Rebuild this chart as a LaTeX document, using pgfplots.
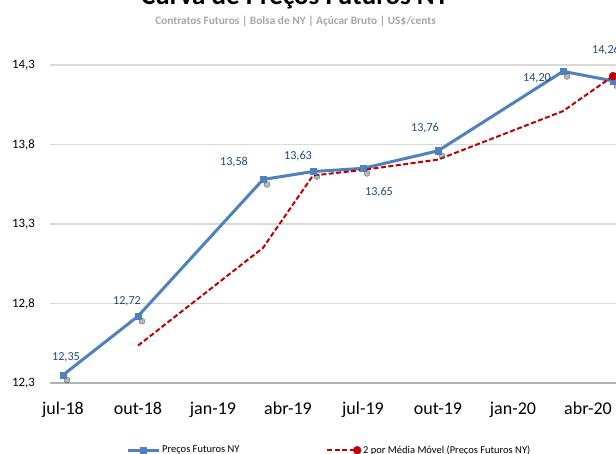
\documentclass[border=0pt]{standalone}
\usepackage{fontspec}
\setmainfont{Carlito}
\usepackage{pgfplots}
\usepackage{pgfplotstable}
\pgfplotsset{compat=1.18}
\definecolor{azul}{HTML}{4F81BD}
\definecolor{vermelho}{HTML}{C00000}
\definecolor{rotulo}{HTML}{1F497D}
\definecolor{grade}{HTML}{D9D9D9}
\definecolor{subt}{HTML}{A6A6A6}

% months since jul-18
\pgfplotstableread{
x  y      lab    dx   dy
0  12.35  12,35  3    18
3  12.72  12,72  -11  15
8  13.58  13,58  -29  17
10 13.63  13,63  -15  15
12 13.65  13,65  16   -24
15 13.76  13,76  -13  23
20 14.26  14,20  -26  -7
22 14.20  14,26  -7   31
}\precos

\pgfplotstableread{
x  y
3  12.535
8  13.15
10 13.605
12 13.64
15 13.705
20 14.01
22 14.23
}\media

\begin{document}
\begin{tikzpicture}
\useasboundingbox (0pt,0pt) rectangle (616pt,-453pt);
\clip (0pt,0pt) rectangle (616pt,-453pt);
\begin{axis}[
  at={(50pt,-383pt)}, anchor=south west,
  scale only axis, width=600.5pt, height=318pt,
  xmin=-0.52, xmax=23.5, ymin=12.3, ymax=14.3,
  clip=false,
  axis x line*=bottom, axis y line*=left,
  x axis line style={draw=black!30, line width=1.3pt, -},
  y axis line style={draw=none},
  ymajorgrids, grid style={draw=grade, line width=1.2pt},
  major tick length=0pt,
  xtick={0,3,6,9,12,15,18,21},
  xticklabels={jul-18,out-18,jan-19,abr-19,jul-19,out-19,jan-20,abr-20},
  xticklabel style={anchor=base, yshift=-31pt, font=\fontsize{18}{21}\selectfont},
  ytick={12.3,12.8,13.3,13.8,14.3},
  yticklabel style={anchor=east, inner sep=0pt, xshift=-15pt, font=\fontsize{12.8}{15}\selectfont},
  /pgf/number format/.cd, assume math mode=true, use comma, fixed, fixed zerofill, precision=1,
  /pgfplots/.cd,
  legend style={at={(axis description cs:0.12656,-0.2115)}, anchor=west, draw=none, fill=none,
    inner sep=0pt, font=\fontsize{10.5}{12}\selectfont, legend columns=2, column sep=0pt,
    nodes={inner sep=0pt, inner xsep=2pt}},
  legend cell align=left,
]
% shadows
\addplot[forget plot, draw=none, mark=*, mark size=3pt,
  mark options={fill=black!55, draw=none, opacity=0.5, xshift=4pt, yshift=-5pt}]
  table[x=x,y=y] {\precos};
\addplot[color=azul, line width=3pt, mark=square*, mark size=3.2pt,
  mark options={solid, fill=azul, draw=azul, line width=0.5pt},
  legend image code/.code={\draw[mark repeat=2,mark phase=2] plot coordinates {(0pt,0pt) (15.5pt,0pt) (31pt,0pt)};},
  point meta=explicit symbolic,
  visualization depends on={\thisrow{dx}\as\dx},
  visualization depends on={\thisrow{dy}\as\dy},
  nodes near coords,
  every node near coord/.append style={anchor=center, xshift=\dx pt, yshift=\dy pt,
    text=rotulo, font=\fontsize{12.2}{14}\selectfont, inner sep=0pt},
  ] table[x=x,y=y,meta=lab] {\precos};
\addlegendentry{\makebox[162pt][l]{Preços Futuros NY}}
\addplot[color=vermelho, line width=2pt, dash pattern=on 5pt off 2.5pt,
  mark=*, mark indices={7}, mark size=4pt,
  mark options={solid, fill=vermelho, draw=vermelho, line width=0.3pt},
  legend image code/.code={\draw[mark indices={2}] plot coordinates {(0pt,0pt) (30pt,0pt)};},
  ] table[x=x,y=y] {\media};
\addlegendentry{2 por Média Móvel (Preços Futuros NY)}
\end{axis}
\node[anchor=base, font=\bfseries\fontsize{27}{30}\selectfont] at (295pt,-4pt) {Curva de Preços Futuros NY};
\node[anchor=base, text=subt, font=\bfseries\fontsize{11.35}{13}\selectfont] at (295.5pt,-24pt) {Contratos Futuros | Bolsa de NY | Açúcar Bruto | US\$/cents};
\end{tikzpicture}
\end{document}
